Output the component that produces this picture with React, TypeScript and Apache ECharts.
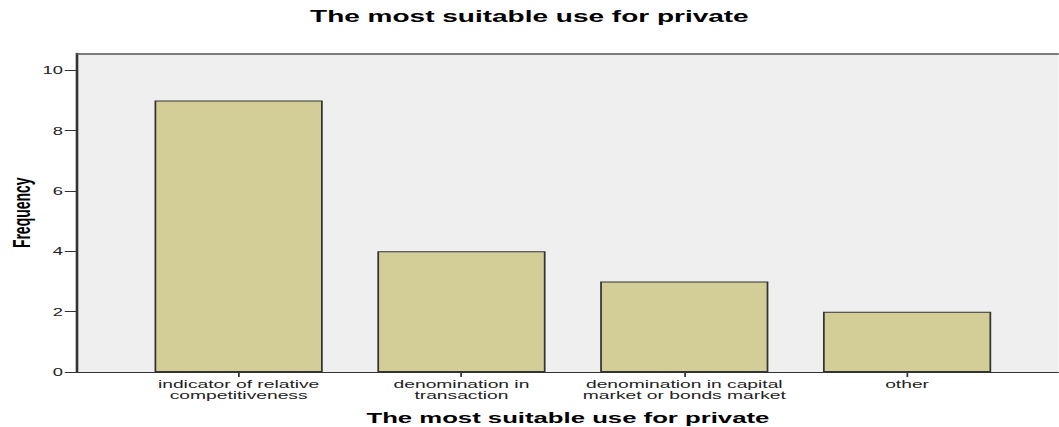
import React, { useEffect, useRef } from "react";
import * as echarts from "echarts";

const titleText = "The most suitable use for private";
const xAxisTitle = "The most suitable use for private";
const yAxisTitle = "Frequency";
const categories = [
  "indicator of relative\ncompetitiveness",
  "denomination in\ntransaction",
  "denomination in capital\nmarket or bonds market",
  "other",
];
const frequencies = [9, 4, 3, 2];
const yMin = 0;
const yMax = 10.56;
const yInterval = 2;

const STRETCH = 1.75;
const W = 1059 / STRETCH;
const H = 427;
const FONT = "'Liberation Sans', Arial, sans-serif";

export default function App() {
  const ref = useRef<HTMLDivElement>(null);
  useEffect(() => {
    if (!ref.current) return;
    const chart = echarts.init(ref.current, null, { renderer: "svg" });
    chart.setOption({
      animation: false,
      backgroundColor: "#ffffff",
      title: {
        text: titleText,
        left: "center",
        top: 3,
        textStyle: { fontFamily: FONT, fontWeight: "bold", fontSize: 16, color: "#000" },
      },
      grid: [
        { left: 44, right: 0, top: 53.5, bottom: 55, show: true, backgroundColor: "#efefef", borderWidth: 0, containLabel: false, outerBoundsMode: "none" },
        { left: 72.7, right: 23, top: 53.5, bottom: 55, containLabel: false, outerBoundsMode: "none" },
      ],
      xAxis: [
        {
          gridIndex: 0,
          type: "value",
          min: 0,
          max: 1,
          axisLine: { show: true, lineStyle: { color: "#333", width: 1 } },
          axisTick: { show: false },
          axisLabel: { show: false },
          splitLine: { show: false },
          name: xAxisTitle,
          nameLocation: "middle",
          nameGap: 38,
          nameMoveOverlap: false,
          nameTextStyle: { fontFamily: FONT, fontWeight: "bold", fontSize: 14.7, color: "#000" },
        },
        {
          gridIndex: 0,
          type: "value",
          position: "top",
          min: 0,
          max: 1,
          axisLine: { show: true, lineStyle: { color: "#555", width: 1.5 } },
          axisTick: { show: false },
          axisLabel: { show: false },
          splitLine: { show: false },
        },
        {
          gridIndex: 1,
          type: "category",
          data: categories,
          axisLine: { show: false },
          axisTick: { show: true, alignWithLabel: true, length: 5, lineStyle: { color: "#333" } },
          axisLabel: { interval: 0, fontFamily: FONT, fontSize: 11, lineHeight: 11, color: "#222", margin: 7 },
          splitLine: { show: false },
        },
      ],
      yAxis: [
        {
          gridIndex: 0,
          type: "value",
          min: yMin,
          max: yMax,
          interval: yInterval,
          axisLine: { show: true, lineStyle: { color: "#333", width: 1.5 } },
          axisTick: { show: true, length: 7, lineStyle: { color: "#333" } },
          axisLabel: { showMaxLabel: false, fontFamily: FONT, fontSize: 10.5, color: "#222", margin: 8 },
          splitLine: { show: false },
          name: yAxisTitle,
          nameLocation: "middle",
          nameGap: 25,
          nameMoveOverlap: false,
          nameRotate: 90,
          nameTextStyle: { fontFamily: FONT, fontWeight: "bold", fontSize: 14, color: "#000" },
        },
        { gridIndex: 1, type: "value", min: yMin, max: yMax, interval: yInterval, show: false },
      ],
      series: [
        {
          type: "bar",
          xAxisIndex: 2,
          yAxisIndex: 1,
          data: frequencies,
          barCategoryGap: "24.5%",
          itemStyle: { color: "#d3ce97", borderColor: "#333", borderWidth: 1 },
        },
      ],
    });
    return () => chart.dispose();
  }, []);
  return (
    <div
      style={{
        position: "absolute",
        left: 0,
        top: 0,
        width: W,
        height: H,
        transform: `scaleX(${STRETCH})`,
        transformOrigin: "0 0",
      }}
    >
      <div ref={ref} style={{ width: W, height: H }} />
    </div>
  );
}
